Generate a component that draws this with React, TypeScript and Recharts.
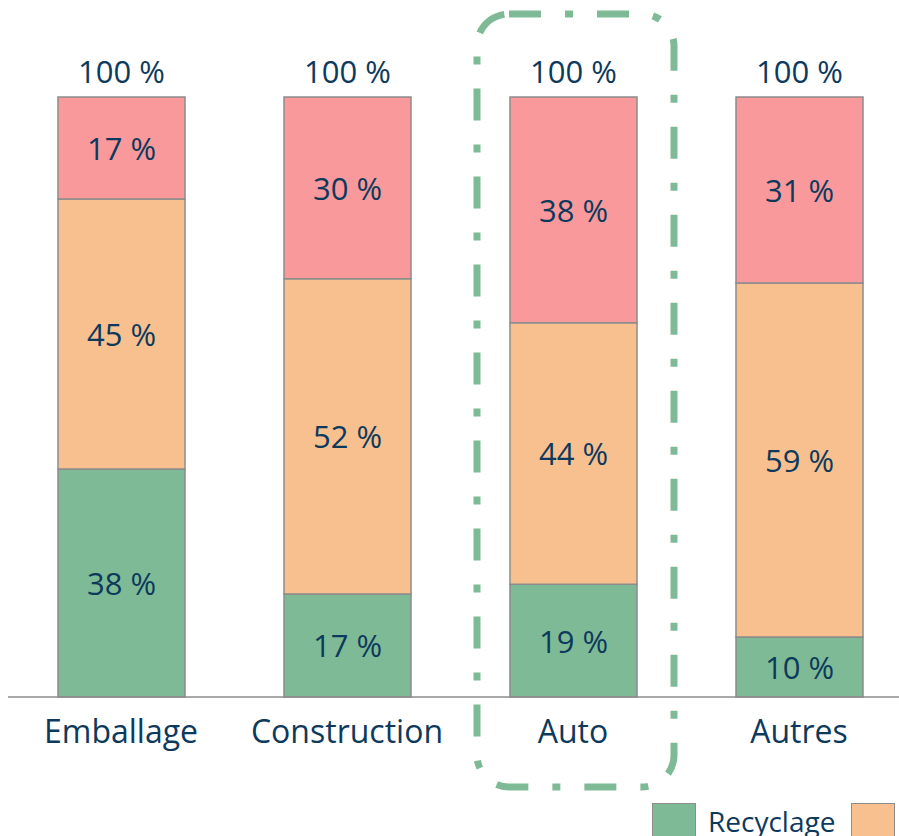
import { BarChart, Bar, XAxis, YAxis, LabelList, ReferenceArea } from 'recharts';

const CATEGORIES = ['Emballage', 'Construction', 'Auto', 'Autres'];
const RECYCLAGE = [38, 17, 19, 10];
const VALORISATION = [45, 52, 44, 59];
const ENFOUISSEMENT = [17, 30, 38, 31];
const TOTAL_LABEL = '100 %';
const HIGHLIGHT = 'Auto';

const SERIES = [
  { key: 'recyclage', name: 'Recyclage', color: '#7fba96' },
  { key: 'valorisation', name: 'Valorisation', color: '#f8c08f' },
  { key: 'enfouissement', name: 'Enfouissement', color: '#f9999b' },
];

const data = CATEGORIES.map((name, i) => ({
  name,
  recyclage: RECYCLAGE[i],
  valorisation: VALORISATION[i],
  enfouissement: ENFOUISSEMENT[i],
}));

const TEXT = '#0d3a5c';
const FONT = '"Open Sans", sans-serif';

const segmentLabel = (props: any) => {
  const { x, y, width, height, value } = props;
  return (
    <text
      x={x + width / 2}
      y={y + height / 2}
      textAnchor="middle"
      dominantBaseline="central"
      fill={TEXT}
      fontSize={31}
      fontFamily={FONT}
    >
      {value} %
    </text>
  );
};

const totalLabel = (props: any) => {
  const { x, y, width } = props;
  return (
    <text
      x={x + width / 2}
      y={y - 26}
      textAnchor="middle"
      dominantBaseline="central"
      fill={TEXT}
      fontSize={31}
      fontFamily={FONT}
    >
      {TOTAL_LABEL}
    </text>
  );
};

// dash-dot rounded frame around the highlighted category
const highlightBox = (props: any) => {
  const { x, y, width, height } = props;
  return (
    <rect
      x={x + 17}
      y={y - 83}
      width={width - 29}
      height={height + 173}
      rx={32}
      ry={32}
      fill="none"
      stroke="#7fba96"
      strokeWidth={7}
      strokeDasharray="32 24 8 24"
    />
  );
};

export default function App() {
  return (
    <div style={{ position: 'absolute', left: 0, top: 0, width: 899, height: 836, overflow: 'hidden', background: '#fff' }}>
      <BarChart
        width={920}
        height={836}
        data={data}
        stackOffset="expand"
        barSize={127}
        margin={{ top: 97, right: 8, left: 8, bottom: 0 }}
      >
        <XAxis
          dataKey="name"
          tickLine={false}
          axisLine={{ stroke: '#8c8c8c', strokeWidth: 1.5 }}
          height={139}
          tick={{ fill: TEXT, fontSize: 32, fontFamily: FONT }}
          tickMargin={17}
        />
        <YAxis hide domain={[0, 1]} />
        <ReferenceArea x1={HIGHLIGHT} x2={HIGHLIGHT} ifOverflow="visible" shape={highlightBox} />
        {SERIES.map((s, i) => (
          <Bar
            key={s.key}
            dataKey={s.key}
            name={s.name}
            stackId="a"
            fill={s.color}
            stroke="#8c8c8c"
            strokeWidth={1.5}
            isAnimationActive={false}
          >
            <LabelList dataKey={s.key} content={segmentLabel} />
            {i === SERIES.length - 1 && <LabelList dataKey={s.key} content={totalLabel} />}
          </Bar>
        ))}
      </BarChart>
      <div style={{ position: 'absolute', left: 652, top: 803, display: 'flex', alignItems: 'flex-start', fontFamily: FONT, fontSize: 28, lineHeight: '36px', color: TEXT, whiteSpace: 'nowrap' }}>
        {SERIES.map((s) => (
          <div key={s.key} style={{ display: 'flex', alignItems: 'flex-start', marginRight: 16 }}>
            <div style={{ width: 44, height: 44, background: s.color, border: '1.5px solid #8c8c8c', boxSizing: 'border-box', marginRight: 12 }} />
            <span>{s.name}</span>
          </div>
        ))}
      </div>
    </div>
  );
}
